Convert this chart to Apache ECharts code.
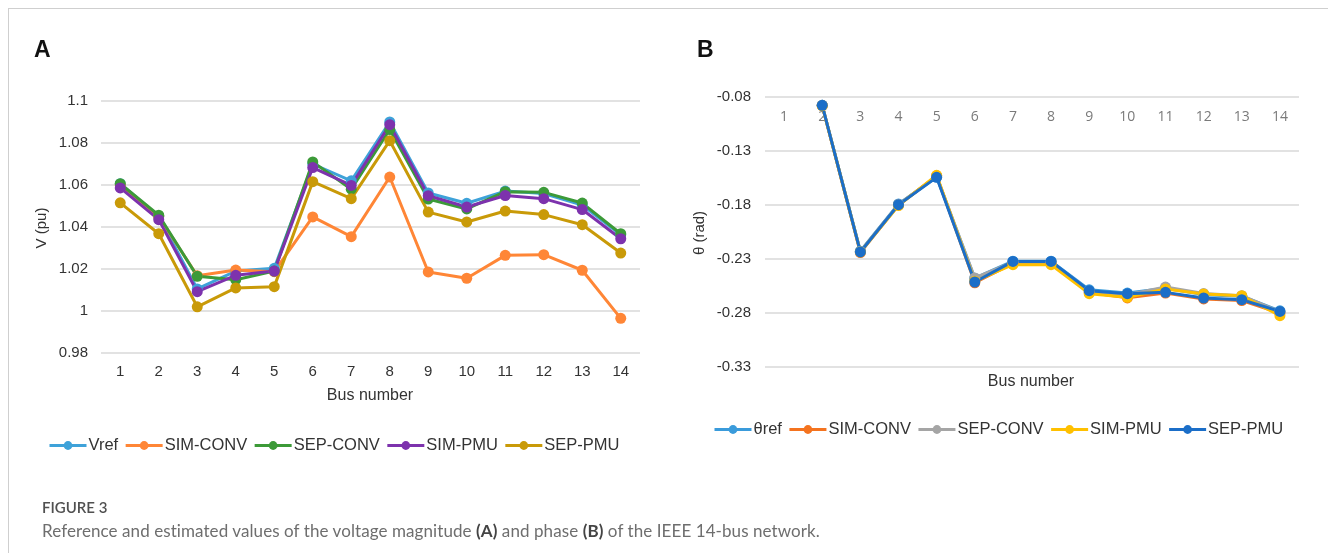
<!DOCTYPE html>
<html>
<head>
<meta charset="utf-8">
<script src="https://cdn.jsdelivr.net/npm/echarts@6/dist/echarts.min.js"></script>
<style>
  html, body { margin: 0; padding: 0; background: #fff; }
  #frame { position: absolute; left: 8px; top: 8px; width: 1330px; height: 560px;
           border-top: 1px solid #cfcfcf; border-left: 1px solid #cfcfcf; }
  #chart { position: absolute; left: 0; top: 0; width: 1328px; height: 553px; }
  .cap { position: absolute; left: 42px; font-family: Lato, "Noto Sans", sans-serif; color: #555; white-space: nowrap; }
  #fig { top: 498px; font-size: 15px; font-weight: 600; color: #505050; }
  #desc { top: 520px; font-size: 17px; letter-spacing: 0.08px; color: #6e6e6e; }
  #desc b { color: #444; }
</style>
</head>
<body>
<div id="frame"></div>
<div id="chart"></div>
<div id="fig" class="cap">FIGURE 3</div>
<div id="desc" class="cap">Reference and estimated values of the voltage magnitude <b>(A)</b> and phase <b>(B)</b> of the IEEE 14-bus network.</div>
<script>
const buses = ['1', '2', '3', '4', '5', '6', '7', '8', '9', '10', '11', '12', '13', '14']

// panel A, voltage magnitude (pu)
const vRef     = [1.0606, 1.045, 1.0105, 1.019, 1.0203, 1.070, 1.062, 1.090, 1.0562, 1.0513, 1.0571, 1.0559, 1.0505, 1.0363]
const vSimConv = [1.0600, 1.045, 1.0168, 1.0195, 1.0187, 1.0448, 1.0354, 1.0638, 1.0186, 1.0156, 1.0265, 1.0268, 1.0194, 0.9965]
const vSepConv = [1.0606, 1.0456, 1.0165, 1.0149, 1.019, 1.071, 1.058, 1.0864, 1.0533, 1.0486, 1.0568, 1.0565, 1.0514, 1.0368]
const vSimPmu  = [1.0586, 1.0435, 1.0092, 1.017, 1.019, 1.0683, 1.0598, 1.0887, 1.0549, 1.0495, 1.055, 1.0535, 1.0483, 1.0344]
const vSepPmu  = [1.0515, 1.0368, 1.002, 1.011, 1.0116, 1.0616, 1.0535, 1.0811, 1.0471, 1.0424, 1.0476, 1.0459, 1.0411, 1.0276]

// panel B, voltage phase (rad); bus 1 is the slack bus and is not plotted
const thRef     = [null, -0.0877, -0.2228, -0.1790, -0.1540, -0.2478, -0.2320, -0.2320, -0.2585, -0.2615, -0.2570, -0.2630, -0.2645, -0.2780]
const thSimConv = [null, -0.0880, -0.2240, -0.1800, -0.1530, -0.2520, -0.2340, -0.2340, -0.2610, -0.2660, -0.2615, -0.2670, -0.2685, -0.2800]
const thSepConv = [null, -0.0877, -0.2230, -0.1795, -0.1535, -0.2476, -0.2330, -0.2330, -0.2600, -0.2630, -0.2560, -0.2620, -0.2640, -0.2790]
const thSimPmu  = [null, -0.0880, -0.2235, -0.1805, -0.1525, -0.2505, -0.2353, -0.2353, -0.2621, -0.2655, -0.2578, -0.2624, -0.2640, -0.2825]
const thSepPmu  = [null, -0.0877, -0.2235, -0.1797, -0.1544, -0.2513, -0.2322, -0.2322, -0.2593, -0.2621, -0.2609, -0.2661, -0.2677, -0.2785]

const colorsA = ['#3ea2d9', '#ff8636', '#3c9a38', '#7d32ad', '#c99a08']
const colorsB = ['#3a9bdb', '#f4731f', '#a5a5a5', '#ffc000', '#1b6ec8']

const FONT = 'Liberation Sans, Arial, sans-serif'

const lineSeries = (name, data, color, xi, yi) => ({
    name,
    type: 'line',
    data,
    xAxisIndex: xi,
    yAxisIndex: yi,
    symbol: 'circle',
    symbolSize: 11,
    color,
    lineStyle: { width: 3 },
    connectNulls: false
})

const gridLine = { show: true, lineStyle: { color: '#d9d9d9', width: 1.5 } }

const legendBase = {
    padding: 0,
    itemWidth: 37, itemHeight: 11, itemGap: 6,
    lineStyle: { width: 3 },
    formatter: n => n.trim(),
    textStyle: { color: '#333', fontSize: 16.5, padding: [0, 0, 0, -3] }
}

const chart = echarts.init(document.getElementById('chart'))
chart.setOption({
    animation: false,
    textStyle: { fontFamily: FONT },
    grid: [
        { left: 101, right: 688, top: 101, bottom: 200 },
        { left: 765, right: 29, top: 97, bottom: 186 }
    ],
    xAxis: [
        {
            gridIndex: 0, type: 'category', data: buses, boundaryGap: true,
            axisLine: { show: false }, axisTick: { show: false },
            axisLabel: { color: '#333', fontSize: 15, margin: 11 }
        },
        {
            gridIndex: 1, type: 'category', data: buses, boundaryGap: true, position: 'top',
            axisLine: { show: false }, axisTick: { show: false },
            axisLabel: { inside: true, color: '#7a7a7a', fontSize: 14, margin: 13, fontFamily: 'Open Sans, sans-serif' }
        }
    ],
    yAxis: [
        {
            gridIndex: 0, type: 'value', min: 0.98, max: 1.1, interval: 0.02,
            axisLine: { show: false }, axisTick: { show: false },
            splitLine: gridLine,
            axisLabel: { color: '#333', fontSize: 15, margin: 13, formatter: v => String(+v.toFixed(2)) }
        },
        {
            gridIndex: 1, type: 'value', min: -0.33, max: -0.08, interval: 0.05,
            axisLine: { show: false }, axisTick: { show: false },
            splitLine: gridLine,
            axisLabel: { color: '#333', fontSize: 15, margin: 14, formatter: v => v.toFixed(2) }
        }
    ],
    legend: [
        Object.assign({ left: 48, top: 437, data: ['Vref', 'SIM-CONV', 'SEP-CONV', 'SIM-PMU', 'SEP-PMU'] }, legendBase),
        Object.assign({ left: 713, top: 421, data: ['θref', 'SIM-CONV ', 'SEP-CONV ', 'SIM-PMU ', 'SEP-PMU '] }, legendBase)
    ],
    series: [
        lineSeries('Vref', vRef, colorsA[0], 0, 0),
        lineSeries('SIM-CONV', vSimConv, colorsA[1], 0, 0),
        lineSeries('SEP-CONV', vSepConv, colorsA[2], 0, 0),
        lineSeries('SIM-PMU', vSimPmu, colorsA[3], 0, 0),
        lineSeries('SEP-PMU', vSepPmu, colorsA[4], 0, 0),
        // trailing spaces keep legend B separate from legend A
        lineSeries('θref', thRef, colorsB[0], 1, 1),
        lineSeries('SIM-CONV ', thSimConv, colorsB[1], 1, 1),
        lineSeries('SEP-CONV ', thSepConv, colorsB[2], 1, 1),
        lineSeries('SIM-PMU ', thSimPmu, colorsB[3], 1, 1),
        lineSeries('SEP-PMU ', thSepPmu, colorsB[4], 1, 1)
    ],
    graphic: [
        { type: 'text', left: 34, top: 39, style: { text: 'A', font: 'bold 23px ' + FONT, fill: '#111' } },
        { type: 'text', left: 697, top: 39, style: { text: 'B', font: 'bold 23px ' + FONT, fill: '#111' } },
        { type: 'text', x: 370, y: 396, style: { text: 'Bus number', font: '16px ' + FONT, fill: '#333', align: 'center', verticalAlign: 'middle' } },
        { type: 'text', x: 1031, y: 382, style: { text: 'Bus number', font: '16px ' + FONT, fill: '#333', align: 'center', verticalAlign: 'middle' } },
        { type: 'text', x: 42, y: 228, rotation: Math.PI / 2, style: { text: 'V (pu)', font: '15px ' + FONT, fill: '#333', align: 'center', verticalAlign: 'middle' } },
        { type: 'text', x: 700, y: 233, rotation: Math.PI / 2, style: { text: 'θ (rad)', font: '15px ' + FONT, fill: '#333', align: 'center', verticalAlign: 'middle' } }
    ]
})
</script>
</body>
</html>
